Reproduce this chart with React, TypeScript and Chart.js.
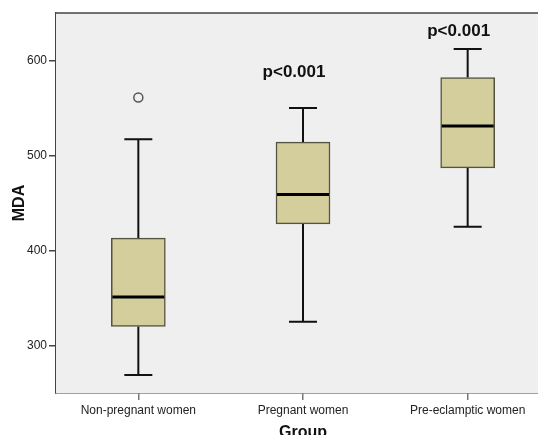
import React, { useEffect, useRef } from "react";
import { Chart, registerables } from "chart.js";

Chart.register(...registerables);

const categories = ["Non-pregnant women", "Pregnant women", "Pre-eclamptic women"];
const whiskerLow = [269, 325, 425];
const q1 = [320, 428, 487];
const median = [351, 459, 531];
const q3 = [413, 514, 582];
const whiskerHigh = [517, 550, 612];
const outliers: (number | null)[] = [561, null, null];
const pLabelText = ["", "p<0.001", "p<0.001"];
const pLabelValue: (number | null)[] = [null, 588, 631];
const yTicks = [300, 400, 500, 600];

const FONT = "'Liberation Sans', Arial, sans-serif";

const boxPlugin = {
  id: "boxExtras",
  beforeDatasetsDraw(chart: any) {
    const { ctx, chartArea } = chart;
    ctx.save();
    ctx.fillStyle = "#EFEFEF";
    ctx.fillRect(chartArea.left, chartArea.top, chartArea.right - chartArea.left, chartArea.bottom - chartArea.top);
    ctx.strokeStyle = "#444";
    ctx.lineWidth = 1.5;
    ctx.beginPath();
    ctx.moveTo(chartArea.left, chartArea.top);
    ctx.lineTo(chartArea.right, chartArea.top);
    ctx.stroke();
    const xs = chart.scales.x;
    const ys = chart.scales.y;
    ctx.strokeStyle = "#111";
    ctx.lineWidth = 2;
    for (let i = 0; i < categories.length; i++) {
      const x = xs.getPixelForValue(i);
      const capHalf = 14;
      const yLo = ys.getPixelForValue(whiskerLow[i]);
      const yQ1 = ys.getPixelForValue(q1[i]);
      const yQ3 = ys.getPixelForValue(q3[i]);
      const yHi = ys.getPixelForValue(whiskerHigh[i]);
      ctx.beginPath();
      ctx.moveTo(x, yQ3);
      ctx.lineTo(x, yHi);
      ctx.moveTo(x - capHalf, yHi);
      ctx.lineTo(x + capHalf, yHi);
      ctx.moveTo(x, yQ1);
      ctx.lineTo(x, yLo);
      ctx.moveTo(x - capHalf, yLo);
      ctx.lineTo(x + capHalf, yLo);
      ctx.stroke();
    }
    ctx.restore();
  },
  afterDatasetsDraw(chart: any) {
    const { ctx } = chart;
    const xs = chart.scales.x;
    const ys = chart.scales.y;
    const meta = chart.getDatasetMeta(0);
    ctx.save();
    ctx.strokeStyle = "#000";
    ctx.lineWidth = 3;
    for (let i = 0; i < categories.length; i++) {
      const bar = meta.data[i] as any;
      const half = bar.width / 2 - 1;
      const x = xs.getPixelForValue(i);
      const y = ys.getPixelForValue(median[i]);
      ctx.beginPath();
      ctx.moveTo(x - half, y);
      ctx.lineTo(x + half, y);
      ctx.stroke();
    }
    ctx.fillStyle = "#111";
    ctx.font = `bold 17px ${FONT}`;
    ctx.textAlign = "center";
    ctx.textBaseline = "middle";
    for (let i = 0; i < categories.length; i++) {
      const v = pLabelValue[i];
      if (v == null || !pLabelText[i]) continue;
      ctx.fillText(pLabelText[i], xs.getPixelForValue(i) - 9, ys.getPixelForValue(v));
    }
    ctx.restore();
  },
};

export default function App() {
  const ref = useRef<HTMLCanvasElement>(null);
  useEffect(() => {
    document.body.style.margin = "0";
    const canvas = ref.current!;
    const chart = new Chart(canvas, {
      type: "bar",
      data: {
        labels: categories,
        datasets: [
          {
            type: "bar",
            data: categories.map((_, i) => [q1[i], q3[i]]) as any,
            backgroundColor: "#D3CE9C",
            borderColor: "#55533F",
            borderWidth: 1.5,
            borderSkipped: false,
            barThickness: 54,
            order: 2,
          },
          {
            type: "line",
            data: outliers as any,
            showLine: false,
            pointRadius: 4.5,
            pointHoverRadius: 4.5,
            pointBackgroundColor: "#EFEFEF",
            pointBorderColor: "#555",
            pointBorderWidth: 1.5,
            order: 1,
          } as any,
        ],
      },
      options: {
        responsive: false,
        animation: false,
        events: [],
        layout: { padding: { top: 13, right: 0, bottom: 0, left: 0 } },
        plugins: { legend: { display: false }, tooltip: { enabled: false } },
        scales: {
          x: {
            offset: true,
            grid: { display: true, offset: false, drawOnChartArea: false, drawTicks: true, tickLength: 7, tickColor: "#777", lineWidth: 1.5 },
            border: { display: true, color: "#444", width: 1.5 },
            ticks: { color: "#222", font: { family: FONT, size: 12 }, padding: 3, maxRotation: 0, autoSkip: false },
            title: { display: true, text: "Group", color: "#111", font: { family: FONT, size: 16, weight: "bold" }, padding: { top: 0, bottom: 0 } },
            afterFit: (s: any) => { s.height = 49; },
          },
          y: {
            min: 250,
            max: 650,
            grid: { display: true, drawOnChartArea: false, drawTicks: true, tickLength: 7, tickColor: "#444", lineWidth: 1.5 },
            border: { display: true, color: "#444", width: 1.5 },
            ticks: { color: "#222", font: { family: FONT, size: 12 }, padding: 2 },
            afterBuildTicks: (s: any) => { s.ticks = yTicks.map((v) => ({ value: v })); },
            title: { display: true, text: "MDA", color: "#111", font: { family: FONT, size: 16, weight: "bold" }, padding: { top: 10, bottom: 0 } },
            afterFit: (s: any) => { s.width = 56; },
          },
        },
      },
      plugins: [boxPlugin],
    });
    return () => chart.destroy();
  }, []);
  return (
    <div style={{ position: "absolute", left: 0, top: 0, width: 538, height: 435, overflow: "hidden", background: "#fff" }}>
      <canvas ref={ref} width={556} height={442} style={{ display: "block" }} />
    </div>
  );
}
